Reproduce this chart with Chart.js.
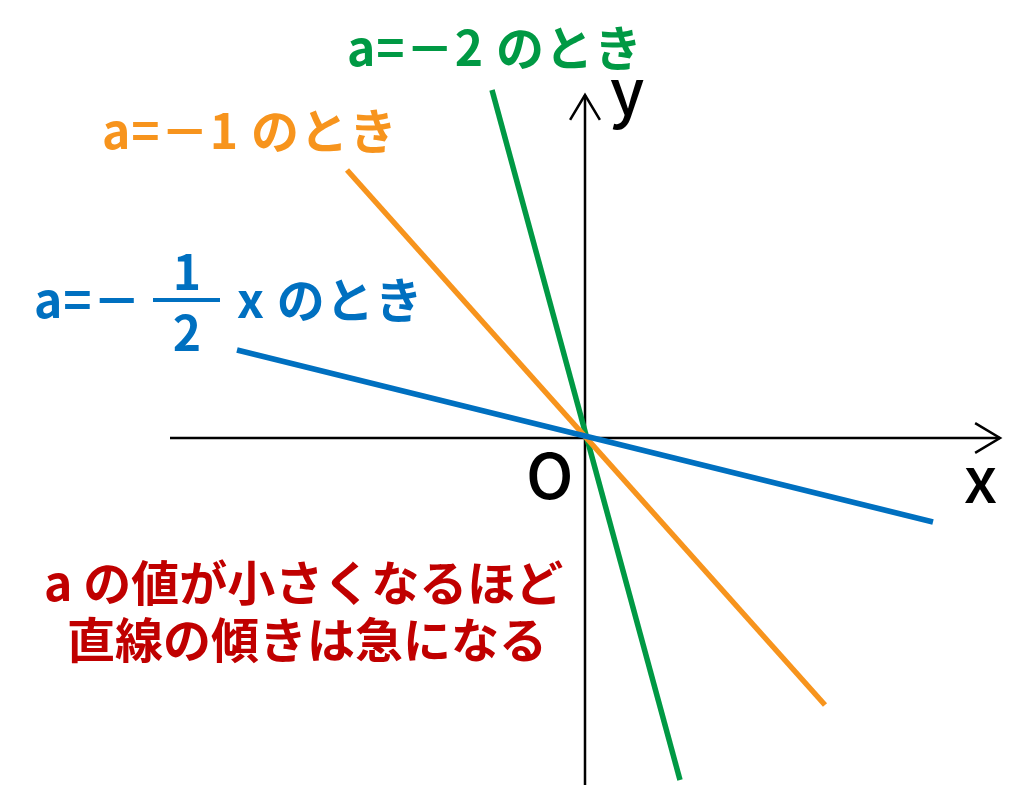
<!DOCTYPE html>
<html lang="ja">
<head>
<meta charset="utf-8">
<title>a の値と直線の傾き</title>
<script src="https://cdn.jsdelivr.net/npm/chart.js@4/dist/chart.umd.min.js"></script>
<style>
  html, body { margin: 0; padding: 0; background: #fff; }
  #wrap { position: relative; width: 1024px; height: 800px; }
</style>
</head>
<body>
<div id="wrap"><canvas id="graph"></canvas></div>
<script>
  "use strict";

  // end points of each line (1 unit ~ 100px)
  const blueX = [-3.48, 3.48];
  const blueY = [0.88, -0.84];
  const orangeX = [-2.38, 2.40];
  const orangeY = [2.68, -2.67];
  const greenX = [-0.93, 0.95];
  const greenY = [3.48, -3.42];

  // axes
  const xAxisX = [-4.15, 4.15];
  const xAxisY = [0, 0];
  const yAxisX = [0, 0];
  const yAxisY = [-3.47, 3.43];

  // visible window
  const X_MIN = -5.85, X_MAX = 4.39;
  const Y_MIN = -3.62, Y_MAX = 4.38;

  const COLORS = { blue: "#0070c0", orange: "#f7941d", green: "#009944", red: "#c00000", black: "#000" };
  const JP = '"Noto Sans CJK JP", "Noto Sans", sans-serif';

  function pts(xs, ys) { return xs.map((x, i) => ({ x: x, y: ys[i] })); }

  function lineDs(label, xs, ys, color, width, order) {
    return {
      label: label, data: pts(xs, ys), showLine: true,
      borderColor: color, borderWidth: width, borderCapStyle: "butt",
      pointRadius: 0, fill: false, order: order,
    };
  }

  // open chevron at the last point of the axis datasets
  const arrowHeads = {
    id: "arrowHeads",
    afterDatasetsDraw(chart) {
      const ctx = chart.ctx;
      [4, 3].forEach((idx) => {
        const el = chart.getDatasetMeta(idx).data;
        const tip = el[el.length - 1], prev = el[el.length - 2];
        const ang = Math.atan2(tip.y - prev.y, tip.x - prev.x);
        const len = 29, spread = 0.54;
        ctx.save();
        ctx.strokeStyle = COLORS.black;
        ctx.lineWidth = 2.5;
        ctx.beginPath();
        ctx.moveTo(tip.x - len * Math.cos(ang - spread), tip.y - len * Math.sin(ang - spread));
        ctx.lineTo(tip.x, tip.y);
        ctx.lineTo(tip.x - len * Math.cos(ang + spread), tip.y - len * Math.sin(ang + spread));
        ctx.stroke();
        ctx.restore();
      });
    },
  };

  // labels and the note in red
  const labels = {
    id: "labels",
    afterDraw(chart) {
      const ctx = chart.ctx;
      ctx.save();
      ctx.textBaseline = "alphabetic";

      ctx.font = "bold 48px " + JP;
      ctx.letterSpacing = "1px";
      ctx.fillStyle = COLORS.green;
      ctx.fillText("a=－2 のとき", 347, 66);

      ctx.fillStyle = COLORS.orange;
      ctx.fillText("a=－1 のとき", 102, 149);

      ctx.fillStyle = COLORS.blue;
      ctx.fillText("a=－", 34, 318);
      ctx.letterSpacing = "0px";
      ctx.textAlign = "center";
      ctx.fillText("1", 187, 290);
      ctx.fillText("2", 187, 351);
      ctx.fillRect(153, 298, 67, 4);
      ctx.textAlign = "left";
      ctx.letterSpacing = "1px";
      ctx.fillText("x のとき", 237, 318);

      ctx.font = "bold 48px " + JP;
      ctx.letterSpacing = "0px";
      ctx.fillStyle = COLORS.red;
      ctx.fillText("a の値が小さくなるほど", 44, 601);
      ctx.fillText("直線の傾きは急になる", 67, 658);

      ctx.font = "500 63px " + JP;
      ctx.fillStyle = COLORS.black;
      ctx.fillText("y", 610, 115);
      ctx.fillText("x", 964, 503);
      ctx.fillText("O", 526, 499);
      ctx.restore();
    },
  };

  new Chart(document.getElementById("graph"), {
    type: "scatter",
    data: {
      datasets: [
        lineDs("a=-1/2", blueX, blueY, COLORS.blue, 5.5, 1),
        lineDs("a=-1", orangeX, orangeY, COLORS.orange, 5.5, 2),
        lineDs("a=-2", greenX, greenY, COLORS.green, 5.5, 3),
        lineDs("x axis", xAxisX, xAxisY, COLORS.black, 2.5, 10),
        lineDs("y axis", yAxisX, yAxisY, COLORS.black, 2.5, 10),
      ],
    },
    options: {
      responsive: true,
      maintainAspectRatio: false,
      animation: false,
      events: [],
      layout: { padding: 0 },
      plugins: { legend: { display: false }, tooltip: { enabled: false } },
      scales: {
        x: { type: "linear", min: X_MIN, max: X_MAX, display: false },
        y: { type: "linear", min: Y_MIN, max: Y_MAX, display: false },
      },
    },
    plugins: [arrowHeads, labels],
  });
</script>
</body>
</html>
